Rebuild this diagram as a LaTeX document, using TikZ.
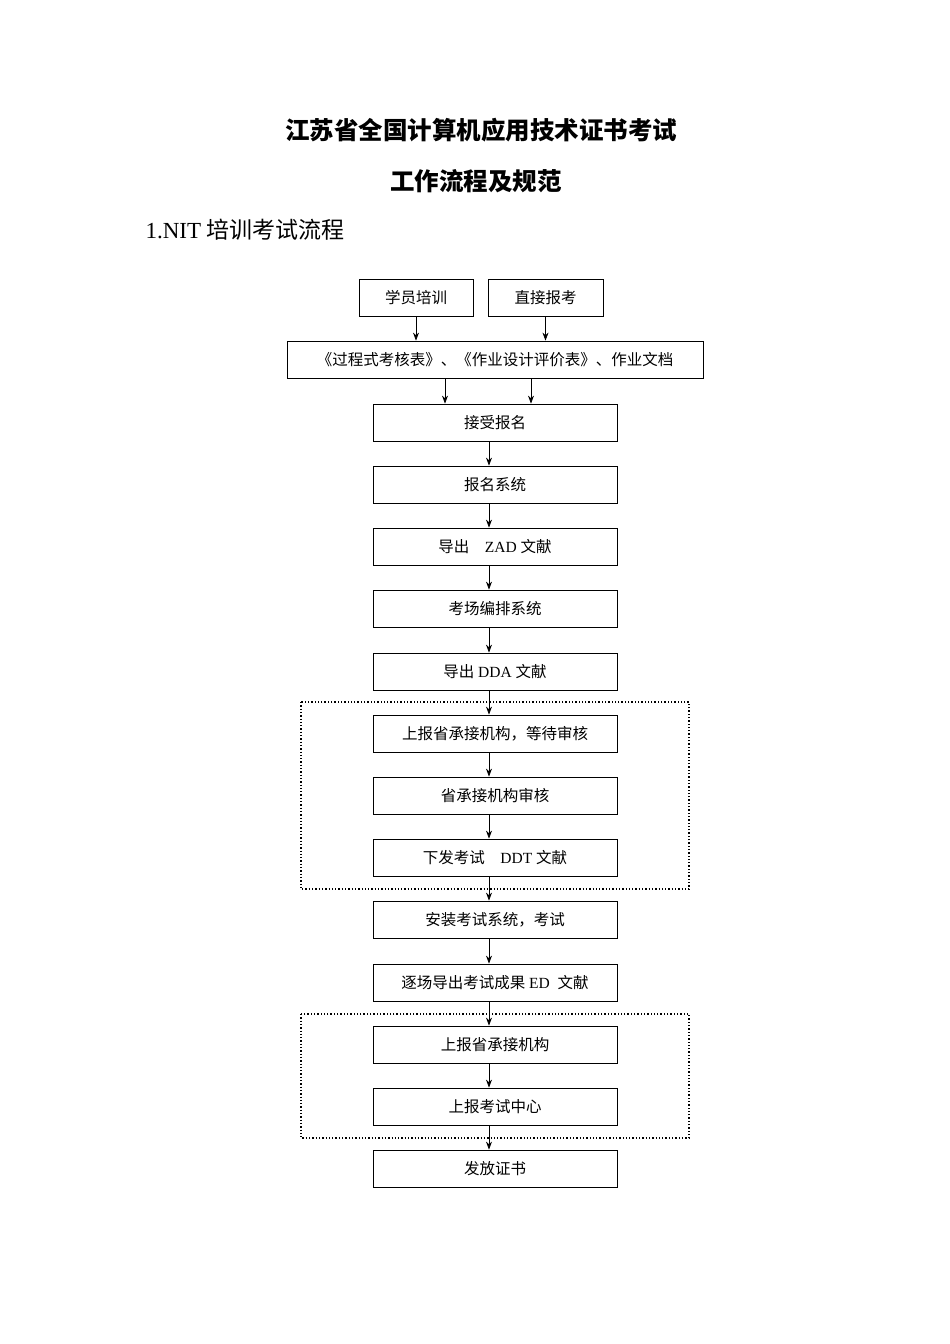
\documentclass[tikz,border=0pt]{standalone}
\usepackage{fontspec}
\setmainfont{Liberation Serif}
\newfontfamily\cjk{Noto Sans CJK SC}
\usetikzlibrary{arrows.meta}
\begin{document}
\begin{tikzpicture}[x=1pt,y=-1pt,
  bx/.style={draw,line width=0.8pt,minimum height=37pt,inner sep=0pt,font=\fontsize{15.5}{18}\selectfont},
  ch/.style={bx,minimum width=244pt},
  ar/.style={-{Stealth[length=8pt,width=6pt]},line width=0.8pt},
  dot/.style={dotted,line width=1.3pt}]
\useasboundingbox (0,0) rectangle (950,1344);
\node[font=\cjk\bfseries\fontsize{24.5}{28}\selectfont] (t1) at (481,130) {江苏省全国计算机应用技术证书考试};
\node[font=\cjk\bfseries\fontsize{24.5}{28}\selectfont] (t2) at (476,181) {工作流程及规范};
\node[anchor=west,font=\fontsize{23}{26}\selectfont] (t3) at (142,230) {1.NIT {\cjk 培训考试流程}};
\node[bx,minimum width=114pt] (a) at (416,298) {\cjk 学员培训};
\node[bx,minimum width=115pt] (b) at (545.5,298) {\cjk 直接报考};
\node[bx,minimum width=416pt] (c) at (495,359.5) {\cjk 《过程式考核表》、《作业设计评价表》、作业文档};
\draw[ar] (a.south) -- (a.south|-c.north);
\draw[ar] (b.south) -- (b.south|-c.north);
\node[ch] (n1) at (495,422.5) {\cjk 接受报名};
\node[ch] (n2) at (495,484.5) {\cjk 报名系统};
\node[ch] (n3) at (495,546.5) {{\cjk 导出}\quad ZAD {\cjk 文献}};
\node[ch] (n4) at (495,608.5) {\cjk 考场编排系统};
\node[ch] (n5) at (495,671.5) {{\cjk 导出} DDA {\cjk 文献}};
\node[ch] (n6) at (495,733.5) {\cjk 上报省承接机构，等待审核};
\node[ch] (n7) at (495,795.5) {\cjk 省承接机构审核};
\node[ch] (n8) at (495,857.5) {{\cjk 下发考试}\quad DDT {\cjk 文献}};
\node[ch] (n9) at (495,919.5) {\cjk 安装考试系统，考试};
\node[ch] (n10) at (495,982.5) {{\cjk 逐场导出考试成果} ED\enspace{\cjk 文献}};
\node[ch] (n11) at (495,1044.5) {\cjk 上报省承接机构};
\node[ch] (n12) at (495,1106.5) {\cjk 上报考试中心};
\node[ch] (n13) at (495,1168.5) {\cjk 发放证书};
\coordinate (c1) at (445,378);
\coordinate (c2) at (531,378);
\draw[ar] (c1) -- (c1|-n1.north);
\draw[ar] (c2) -- (c2|-n1.north);
\foreach \i/\j in {n1/n2,n2/n3,n3/n4,n4/n5,n5/n6,n6/n7,n7/n8,n8/n9,n9/n10,n10/n11,n11/n12,n12/n13}
  \draw[ar] ([xshift=-6pt]\i.south) -- ([xshift=-6pt]\j.north);
\draw[dot] (301,702) rectangle (689,889);
\draw[dot] (301,1014) rectangle (689,1138);
\end{tikzpicture}
\end{document}
